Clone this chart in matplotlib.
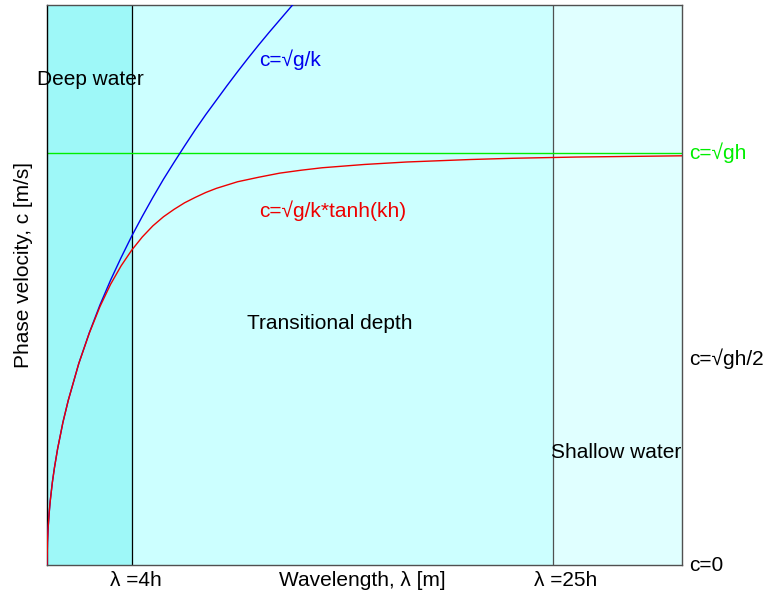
import numpy as np
import matplotlib.pyplot as plt
import matplotlib.transforms as mtransforms

plt.rcParams['font.family'] = ['Liberation Sans', 'DejaVu Sans']

# wavelength in units of h, phase velocity in units of sqrt(g*h)
lam_deep = [0, 0.02, 0.05, 0.1, 0.15, 0.25, 0.35, 0.5, 0.75, 1, 1.5, 2, 2.5, 3,
            3.5, 4, 4.5, 5, 5.5, 6, 6.5, 7, 7.5, 8, 8.5, 9, 9.5, 10, 10.5, 11,
            11.5, 12]
c_deep = [0, 0.056, 0.089, 0.126, 0.155, 0.200, 0.236, 0.282, 0.346, 0.399,
          0.489, 0.564, 0.631, 0.691, 0.746, 0.798, 0.846, 0.892, 0.936, 0.977,
          1.017, 1.056, 1.093, 1.128, 1.163, 1.197, 1.230, 1.262, 1.293, 1.323,
          1.353, 1.382]

lam_full = [0, 0.02, 0.05, 0.1, 0.15, 0.25, 0.35, 0.5, 0.75, 1, 1.5, 2, 2.5, 3,
            3.5, 4, 4.5, 5, 5.5, 6, 6.5, 7, 7.5, 8, 9, 10, 11, 12, 13, 14, 15,
            17, 20, 22, 25, 30]
c_full = [0, 0.056, 0.089, 0.126, 0.155, 0.200, 0.236, 0.282, 0.346, 0.399,
          0.489, 0.563, 0.627, 0.681, 0.726, 0.764, 0.796, 0.823, 0.845, 0.863,
          0.879, 0.892, 0.904, 0.914, 0.930, 0.941, 0.951, 0.958, 0.964, 0.968,
          0.972, 0.978, 0.984, 0.987, 0.990, 0.993]

c_shallow = 1.0
lam_lim_deep = 4.0
lam_lim_shallow = 23.9
lam_max = 30.0
c_max = 1.359

tick_pos = [4.2, 24.5]
tick_labels = ['λ =4h', 'λ =25h']

fig = plt.figure(figsize=(7.66, 6.01), dpi=100)
ax = fig.add_axes([0.0614, 0.0599, 0.8289, 0.9318])
ax.set_xlim(0, lam_max)
ax.set_ylim(0, c_max)

# zones
ax.axvspan(0, lam_lim_deep, color='#9ef8f8', lw=0, zorder=0)
ax.axvspan(lam_lim_deep, lam_lim_shallow, color='#ccffff', lw=0, zorder=0)
ax.axvspan(lam_lim_shallow, lam_max, color='#e0ffff', lw=0, zorder=0)
ax.axvline(lam_lim_deep, color='black', lw=0.9, zorder=1)
ax.axvline(lam_lim_shallow, color='#505050', lw=0.9, zorder=1)

ax.axhline(c_shallow, color='#00ee00', lw=1.0, zorder=2)
ax.plot(lam_deep, c_deep, color='#0000ee', lw=1.0, zorder=3)
ax.plot(lam_full, c_full, color='#ee0000', lw=1.0, zorder=3)

for s in ['top', 'right', 'bottom']:
    ax.spines[s].set_color('#505050')
ax.spines['left'].set_color('black')
for s in ax.spines.values():
    s.set_linewidth(1.0)

fs = 15

ax.set_xticks(tick_pos)
ax.set_xticklabels(tick_labels, fontsize=fs)
ax.tick_params(axis='x', length=0, pad=4)
ax.set_yticks([])

ax.text(0.497, -0.027, 'Wavelength, λ [m]', transform=ax.transAxes,
        ha='center', va='center', fontsize=fs)
fig.text(0.031, 0.559, 'Phase velocity, c [m/s]', rotation=90,
         ha='center', va='center', fontsize=fs)

trans = mtransforms.blended_transform_factory(ax.transAxes, ax.transData)
ax.text(1.012, c_shallow, 'c=√gh', transform=trans, color='#00ee00',
        ha='left', va='center', fontsize=fs)
ax.text(1.012, c_shallow / 2, 'c=√gh/2', transform=trans, color='black',
        ha='left', va='center', fontsize=fs)
ax.text(1.012, 0, 'c=0', transform=trans, color='black',
        ha='left', va='center', fontsize=fs)

ax.text(2.03, 1.177, 'Deep water', ha='center', va='center', fontsize=fs)
ax.text(13.37, 0.587, 'Transitional depth', ha='center', va='center', fontsize=fs)
ax.text(29.98, 0.272, 'Shallow water', ha='right', va='center', fontsize=fs)
ax.text(10.0, 1.226, 'c=√g/k', color='#0000ee', ha='left', va='center', fontsize=fs)
ax.text(10.0, 0.859, 'c=√g/k*tanh(kh)', color='#ee0000', ha='left', va='center',
        fontsize=fs)

fig.savefig('out.png', dpi=100)
